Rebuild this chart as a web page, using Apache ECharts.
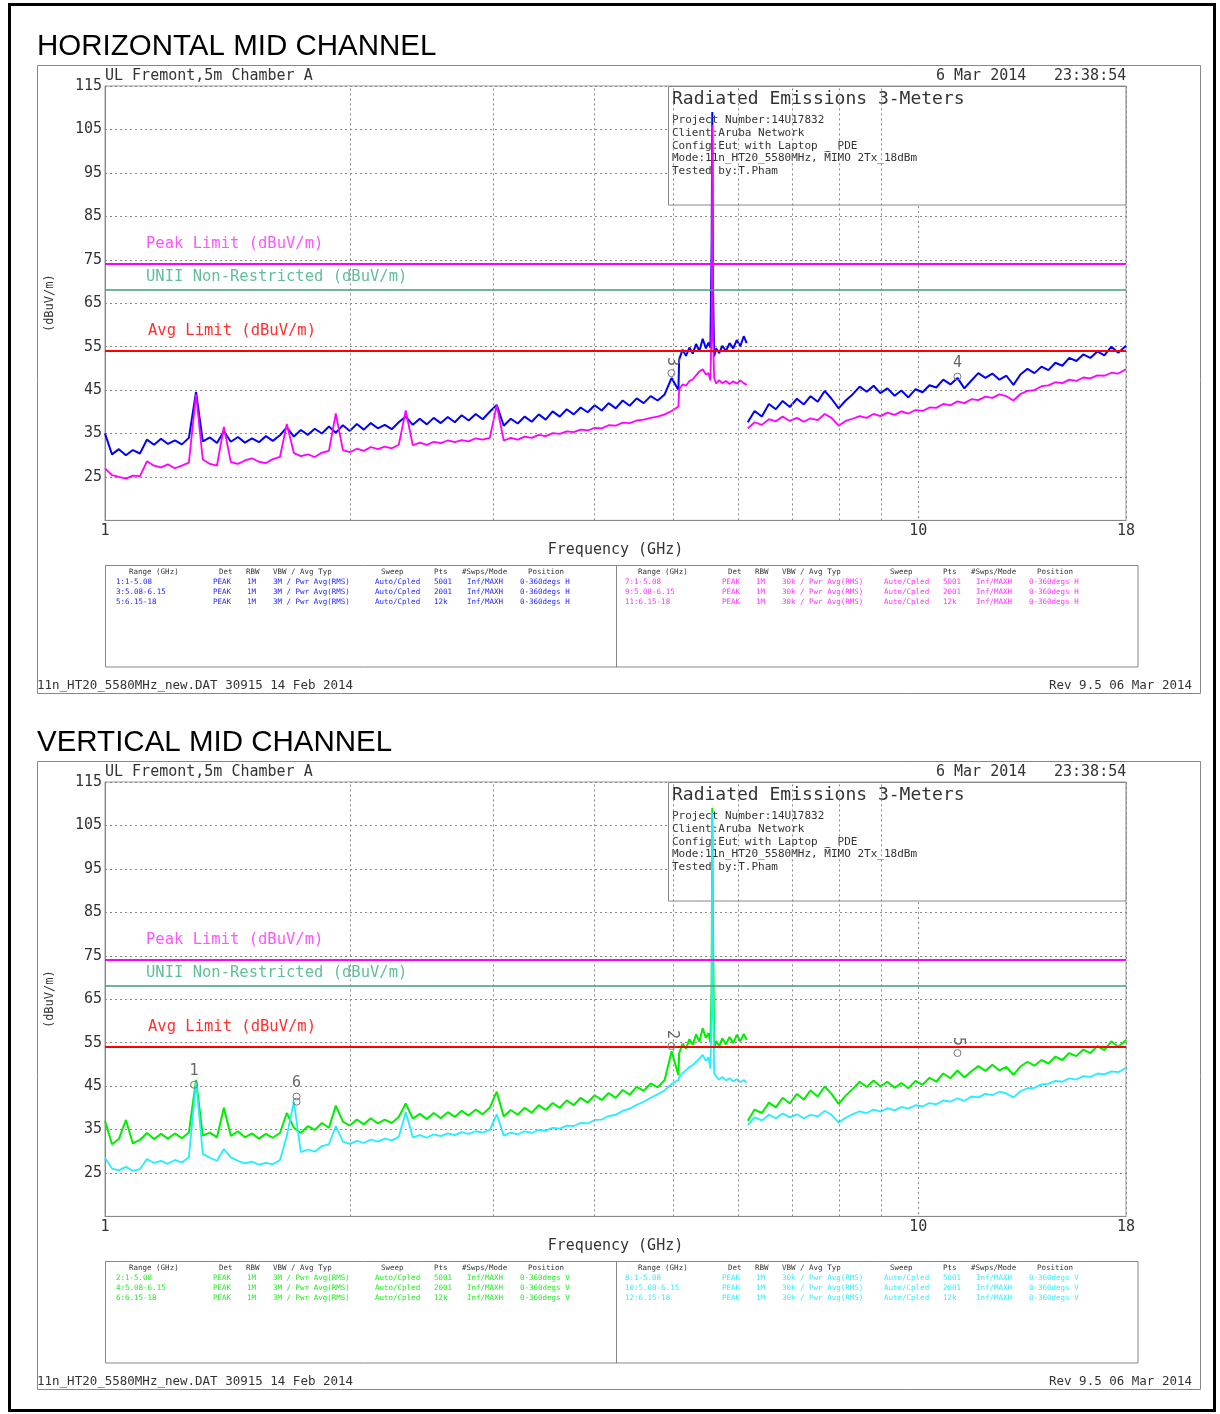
<!DOCTYPE html>
<html><head><meta charset="utf-8">
<script src="https://cdn.jsdelivr.net/npm/echarts/dist/echarts.min.js"></script>
<style>html,body{margin:0;padding:0;background:#fff}#c{width:1220px;height:1414px}</style>
</head><body><div id="c"></div>
<script>
// ---------- DATA ----------
const freqA = [1.000,1.020,1.040,1.061,1.082,1.104,1.126,1.149,1.172,1.195,1.219,1.243,1.268,1.294,1.319,1.346,1.373,1.400,1.428,1.457,1.486,1.516,1.546,1.577,1.608,1.641,1.673,1.707,1.741,1.776,1.811,1.848,1.885,1.922,1.961,2.000,2.040,2.081,2.122,2.165,2.208,2.252,2.297,2.343,2.390,2.438,2.487,2.536,2.587,2.639,2.692,2.745,2.800,2.856,2.913,2.972,3.031,3.092,3.154,3.217,3.281,3.347,3.414,3.482,3.551,3.623,3.695,3.769,3.844,3.921,4.000,4.080,4.161,4.245,4.330,4.416,4.505,4.595,4.687,4.780,4.876,4.973,5.070];
const freqB = [5.08,5.13,5.18,5.23,5.28,5.33,5.38,5.43,5.48,5.52,5.55,5.57,5.58,5.59,5.61,5.64,5.69,5.74,5.80,5.86,5.92,5.98,6.04,6.10,6.15];
const freqC = [6.17,6.29,6.42,6.55,6.68,6.81,6.95,7.09,7.23,7.37,7.52,7.67,7.82,7.98,8.14,8.30,8.47,8.64,8.81,8.98,9.16,9.35,9.53,9.72,9.92,10.12,10.32,10.52,10.73,10.95,11.17,11.39,11.62,11.85,12.09,12.33,12.58,12.83,13.09,13.35,13.62,13.89,14.17,14.45,14.74,15.03,15.33,15.64,15.95,16.27,16.60,16.93,17.27,17.61,18.00];

// Horizontal - peak (blue)
const hPeakA = [35.0,30.2,31.4,30.0,31.2,30.4,33.6,32.4,33.8,32.6,33.4,32.5,34.0,44.6,33.2,34.1,32.8,35.5,33.1,34.2,32.9,33.9,33.0,34.4,33.3,34.6,36.4,34.3,35.8,34.7,36.1,35.0,36.6,35.2,36.9,35.6,37.2,35.9,37.4,36.2,37.0,36.0,37.6,38.9,37.0,38.4,37.1,38.6,37.4,38.8,37.6,39.2,38.0,39.5,38.3,40.0,41.6,36.8,38.4,37.3,38.9,37.7,39.4,38.2,40.1,38.9,40.6,39.4,41.0,39.9,41.5,40.3,42.0,40.8,42.6,41.4,43.1,42.0,43.6,42.6,44.0,47.8,45.0];
const hPeakB = [52.0,54.3,52.9,54.8,53.4,55.6,54.0,56.8,54.6,55.9,54.8,79.0,109.0,70.0,52.8,54.6,53.5,55.2,54.0,55.8,54.6,56.5,55.1,57.4,55.8];
const hPeakC = [37.6,40.2,38.9,41.8,40.6,42.5,41.1,43.0,41.7,43.6,42.3,44.8,43.0,40.8,42.6,44.0,45.8,44.6,46.0,44.3,45.4,43.7,44.9,43.3,45.2,44.5,46.1,45.6,47.4,46.3,47.8,45.4,47.2,48.9,47.8,48.8,47.4,48.3,46.2,48.6,49.9,48.9,50.4,49.6,51.3,50.6,52.4,51.7,53.2,52.4,53.9,53.0,55.0,53.6,55.2];
// Horizontal - average (magenta)
const hAvgA = [27.0,25.4,25.0,24.6,25.3,25.2,28.6,27.6,27.2,27.9,27.0,27.6,28.3,44.0,29.0,28.0,27.6,36.5,28.4,28.0,28.8,29.3,28.5,28.2,29.1,29.6,37.2,30.5,29.8,30.2,29.6,30.6,31.0,39.6,31.2,30.7,31.5,31.0,31.9,31.4,32.0,31.6,32.4,40.3,32.3,32.9,32.4,33.1,32.8,33.4,33.0,33.5,33.2,33.9,33.6,34.0,41.5,33.4,34.0,33.6,34.3,34.0,34.7,34.4,35.1,34.9,35.5,35.3,35.9,35.7,36.3,36.2,36.9,36.8,37.5,37.4,38.0,38.2,38.6,38.9,39.4,40.2,41.2];
const hAvgB = [45.2,46.3,46.0,47.1,47.5,48.4,49.3,49.8,48.6,48.9,47.2,60.0,106.0,58.0,47.8,46.5,47.3,46.6,47.1,46.4,47.0,46.5,47.2,46.6,46.2];
const hAvgC = [36.2,37.6,37.0,38.3,37.8,38.9,37.9,38.6,37.7,38.5,38.1,39.5,38.6,36.8,37.9,38.4,39.0,38.6,39.5,39.0,39.8,39.3,40.1,39.6,40.4,40.2,41.0,40.9,41.8,41.5,42.4,42.0,42.9,42.7,43.5,43.2,44.0,43.6,42.6,44.1,44.8,45.0,45.9,46.1,46.8,46.6,47.4,47.1,47.9,47.7,48.4,48.3,49.0,48.8,49.8];

// Vertical - peak (green)
const vPeakA = [37.0,31.6,32.8,37.2,31.8,32.6,34.2,32.8,34.0,32.9,34.1,33.0,34.3,46.4,33.6,34.3,33.2,40.0,33.5,34.6,33.2,34.1,32.9,34.0,33.1,34.2,38.8,35.4,34.2,35.8,34.9,36.5,35.4,40.5,36.8,35.9,37.3,36.2,37.6,36.4,37.3,36.5,37.9,41.0,37.5,38.6,37.4,38.8,37.6,39.0,37.9,39.3,38.2,39.6,38.5,40.0,43.7,38.0,39.5,38.4,40.0,38.9,40.6,39.5,41.1,40.0,41.7,40.6,42.3,41.2,42.9,41.8,43.4,42.3,44.1,43.0,44.8,43.9,45.6,44.7,46.4,53.0,47.5];
const vPeakB = [52.5,54.8,53.6,55.8,54.5,56.9,55.2,58.3,56.1,57.2,55.0,68.0,109.0,84.0,53.6,55.4,54.2,56.0,54.6,56.3,54.9,56.8,55.3,57.0,55.6];
const vPeakC = [37.0,39.6,38.8,41.2,40.1,42.3,41.0,43.2,41.9,44.0,42.6,44.9,43.2,40.9,42.8,44.3,46.0,44.8,46.3,44.9,46.0,44.6,45.7,44.5,46.2,45.3,46.9,46.0,47.9,46.8,48.6,47.0,48.4,49.6,48.5,49.9,48.6,49.4,47.6,49.5,50.6,49.7,51.0,50.2,51.8,51.0,52.6,51.9,53.4,52.6,54.2,53.3,55.3,54.0,55.6];
// Vertical - average (cyan)
const vAvgA = [28.5,26.0,25.6,26.4,25.5,25.9,28.2,27.3,27.8,27.1,28.0,27.4,28.6,46.0,29.4,28.5,27.8,30.5,28.6,27.8,27.2,27.6,26.9,27.3,27.0,28.0,33.5,41.4,29.8,30.4,29.9,31.2,31.6,35.8,32.2,31.7,32.4,31.9,32.7,32.2,32.9,32.5,33.3,39.0,33.2,33.7,33.1,33.9,33.5,34.1,33.7,34.4,34.0,34.6,34.3,34.9,38.5,33.6,34.3,33.9,34.6,34.2,34.9,34.7,35.4,35.2,35.9,35.8,36.5,36.4,37.2,37.3,38.1,38.4,39.3,39.8,40.7,41.4,42.3,43.1,44.0,45.5,46.4];
const vAvgB = [47.0,48.0,48.6,49.4,49.8,50.6,51.3,52.2,50.8,51.6,49.0,62.0,108.0,68.0,48.0,47.2,46.5,47.1,46.3,46.8,46.1,46.6,45.9,46.4,45.8];
const vAvgC = [36.0,37.8,37.1,38.4,37.6,38.7,37.8,38.5,37.6,38.4,38.0,39.3,38.4,36.6,37.7,38.5,39.2,38.8,39.6,39.1,39.9,39.4,40.2,39.8,40.6,40.3,41.1,40.8,41.7,41.4,42.2,41.6,42.6,42.4,43.2,42.9,43.7,43.3,42.4,43.8,44.5,44.6,45.4,45.5,46.2,46.0,46.8,46.5,47.3,47.1,47.9,47.7,48.4,48.2,49.2];

const xGridFreqs = [2,3,4,5,6,7,8,9];
const yMin = 15, yMax = 115, yStep = 10;
const peakLimit = 74, uniiLimit = 68.2, avgLimit = 54;
const hMarkers = [{label:'3', f:4.97, v:48.9, rot:-90},{label:'4', f:11.17, v:48.1, rot:0}];
const vMarkers = [{label:'1', f:1.287, v:45.3, rot:0},{label:'6', f:1.72, v:42.6, rot:0},{label:'', f:1.72, v:41.4, rot:0},{label:'2', f:4.97, v:54.2, rot:-90},{label:'5', f:11.17, v:52.6, rot:-90}];

const tableHead = ['Range (GHz)','Det','RBW','VBW / Avg Typ','Sweep','Pts','#Swps/Mode','Position'];
const hLeftRows = [['1:1-5.08','PEAK','1M','3M / Pwr Avg(RMS)','Auto/Cpled','5001','Inf/MAXH','0-360degs H'],['3:5.08-6.15','PEAK','1M','3M / Pwr Avg(RMS)','Auto/Cpled','2001','Inf/MAXH','0-360degs H'],['5:6.15-18','PEAK','1M','3M / Pwr Avg(RMS)','Auto/Cpled','12k','Inf/MAXH','0-360degs H']];
const hRightRows = [['7:1-5.08','PEAK','1M','30k / Pwr Avg(RMS)','Auto/Cpled','5001','Inf/MAXH','0-360degs H'],['9:5.08-6.15','PEAK','1M','30k / Pwr Avg(RMS)','Auto/Cpled','2001','Inf/MAXH','0-360degs H'],['11:6.15-18','PEAK','1M','30k / Pwr Avg(RMS)','Auto/Cpled','12k','Inf/MAXH','0-360degs H']];
const vLeftRows = [['2:1-5.08','PEAK','1M','3M / Pwr Avg(RMS)','Auto/Cpled','5001','Inf/MAXH','0-360degs V'],['4:5.08-6.15','PEAK','1M','3M / Pwr Avg(RMS)','Auto/Cpled','2001','Inf/MAXH','0-360degs V'],['6:6.15-18','PEAK','1M','3M / Pwr Avg(RMS)','Auto/Cpled','12k','Inf/MAXH','0-360degs V']];
const vRightRows = [['8:1-5.08','PEAK','1M','30k / Pwr Avg(RMS)','Auto/Cpled','5001','Inf/MAXH','0-360degs V'],['10:5.08-6.15','PEAK','1M','30k / Pwr Avg(RMS)','Auto/Cpled','2001','Inf/MAXH','0-360degs V'],['12:6.15-18','PEAK','1M','30k / Pwr Avg(RMS)','Auto/Cpled','12k','Inf/MAXH','0-360degs V']];
const infoLines = ['Project Number:14U17832','Client:Aruba Network','Config:Eut with Laptop _ PDE','Mode:11n_HT20_5580MHz, M\u0304IMO 2Tx_18dBm','Tested by:T.Pham'];

// ---------- CHART ----------
const MONO = 'DejaVu Sans Mono';
const TXT = '#333';
const panels = [
  {dy:0, title:'HORIZONTAL MID CHANNEL', peak:[hPeakA,hPeakB,hPeakC], avg:[hAvgA,hAvgB,hAvgC], pc:'#0000ff', ac:'#ff00ff', markers:hMarkers, left:hLeftRows, right:hRightRows, lc:'#2626ff', rc:'#ff33ff'},
  {dy:696, title:'VERTICAL MID CHANNEL', peak:[vPeakA,vPeakB,vPeakC], avg:[vAvgA,vAvgB,vAvgC], pc:'#00ee00', ac:'#22eeff', markers:vMarkers, left:vLeftRows, right:vRightRows, lc:'#22ee22', rc:'#33eeff'}
];
const zip = (f,v)=>f.map((x,i)=>[x,v[i]]);

const grids=[], xAxes=[], yAxes=[], series=[], graphics=[];
function txt(x,y,s,o){ o=o||{}; graphics.push({type:'text', x, y, z:o.z||3, rotation:o.rot||0, style:{text:s, fill:o.color||TXT, font:(o.size||15)+'px "'+(o.family||MONO)+'"', textAlign:o.align||'left', textVerticalAlign:'middle'}}); }
function rect(x,y,w,h,o){ o=o||{}; graphics.push({type:'rect', z:o.z||1, shape:{x,y,width:w,height:h}, style:{fill:o.fill||'none', stroke:o.stroke||'#888', lineWidth:o.lw||1}}); }
function line(x1,y1,x2,y2,o){ o=o||{}; graphics.push({type:'line', z:o.z||1, shape:{x1,y1,x2,y2}, style:{stroke:o.stroke||'#888', lineWidth:o.lw||1}}); }

// page border
rect(9.5,4.5,1205,1406,{stroke:'#000', lw:3, z:1});

panels.forEach((p,gi)=>{
  const dy=p.dy;
  grids.push({left:105, top:86+dy, width:1021, height:434.4, show:true, borderColor:'#999', borderWidth:1, containLabel:false, outerBoundsMode:'none'});
  xAxes.push({type:'log', logBase:10, gridIndex:gi, min:1, max:18,
    axisLine:{show:true, lineStyle:{color:'#888'}}, axisTick:{show:false},
    axisLabel:{show:true, color:TXT, fontFamily:MONO, fontSize:15, margin:3, formatter:v=>String(Math.round(v))},
    splitLine:{show:true, lineStyle:{color:'#888', type:[2,3], width:1}},
    name:'Frequency (GHz)', nameLocation:'middle', nameGap:22, nameTextStyle:{color:TXT, fontFamily:MONO, fontSize:15}});
  yAxes.push({type:'value', gridIndex:gi, min:yMin, max:yMax, interval:yStep,
    axisLine:{show:true, lineStyle:{color:'#888'}}, axisTick:{show:false},
    axisLabel:{color:TXT, fontFamily:MONO, fontSize:15, margin:3, formatter:v=>v===yMin?'':String(v)},
    splitLine:{show:true, lineStyle:{color:'#888', type:[2,3], width:1}},
    name:'(dBuV/m)', nameLocation:'middle', nameGap:49, nameRotate:90, nameTextStyle:{color:TXT, fontFamily:MONO, fontSize:12}});
  // vertical minor grid lines
  series.push({type:'line', xAxisIndex:gi, yAxisIndex:gi, data:[], z:0, silent:true, animation:false,
    markLine:{silent:true, symbol:['none','none'], label:{show:false}, animation:false,
      lineStyle:{color:'#888', type:[2,3], width:1}, data:xGridFreqs.map(f=>({xAxis:f}))}});
  const mk = {symbol:'circle', symbolSize:7, animation:false, silent:true,
    itemStyle:{color:'rgba(0,0,0,0)', borderColor:'#777', borderWidth:1},
    label:{show:true, position:'top', distance:2, color:'#666', fontFamily:MONO, fontSize:15, formatter:q=>q.name},
    data:p.markers.map(m=>({name:m.label, coord:[m.f,m.v],
      label: m.rot ? {rotate:m.rot, align:'right', verticalAlign:'middle', distance:3} : {}}))};
  const base = {type:'line', xAxisIndex:gi, yAxisIndex:gi, showSymbol:false, symbol:'none', silent:true, animation:false, clip:true};
  series.push(Object.assign({}, base, {z:2, data:zip(freqA,p.peak[0]).concat(zip(freqB,p.peak[1])), lineStyle:{color:p.pc, width:2}}));
  series.push(Object.assign({}, base, {z:2, data:zip(freqC,p.peak[2]), lineStyle:{color:p.pc, width:2}}));
  series.push(Object.assign({}, base, {z:3, data:zip(freqA,p.avg[0]).concat(zip(freqB,p.avg[1])), lineStyle:{color:p.ac, width:1.8}}));
  series.push(Object.assign({}, base, {z:3, data:zip(freqC,p.avg[2]), lineStyle:{color:p.ac, width:1.8}, markPoint:mk}));
  // limit lines
  series.push({type:'line', xAxisIndex:gi, yAxisIndex:gi, data:[], z:4, silent:true, animation:false,
    markLine:{silent:true, symbol:['none','none'], label:{show:false}, animation:false, data:[
      {yAxis:peakLimit, lineStyle:{color:'#ff00ff', width:2, type:'solid'}},
      {yAxis:uniiLimit, lineStyle:{color:'#3f9c7e', width:1.5, type:'solid'}},
      {yAxis:avgLimit, lineStyle:{color:'#ff0000', width:2, type:'solid'}}]}});

  // texts / boxes
  txt(37, 47+dy, p.title, {family:'Liberation Sans', size:29.5, color:'#000'});
  rect(37.5, 65.5+dy, 1163, 628, {stroke:'#888', z:0});
  txt(105, 76+dy, 'UL Fremont,5m Chamber A');
  txt(936, 76+dy, '6 Mar 2014');
  txt(1054, 76+dy, '23:38:54');
  rect(668.5, 86.5+dy, 457.5, 118.5, {fill:'#fff', stroke:'#888', z:1});
  txt(672, 99+dy, 'Radiated Emissions 3-Meters', {size:18});
  infoLines.forEach((s,i)=>txt(672, 120.5+dy+i*12.7, s, {size:11}));
  txt(146, 244+dy, 'Peak Limit (dBuV/m)', {color:'#ff55ff', size:15.5});
  txt(146, 277+dy, 'UNII Non-Restricted (dBuV/m)', {color:'#5fbf9a', size:15.5});
  txt(148, 331+dy, 'Avg Limit (dBuV/m)', {color:'#ff3030', size:15.5});
  // settings table
  rect(105.5, 565.5+dy, 1032.5, 101.5, {stroke:'#888', z:1});
  line(616.5, 565.5+dy, 616.5, 667+dy, {stroke:'#888'});
  const headX=[129,219,246,273,381,434,462,528], rowX=[116,213,247,273,375,434,467,520];
  [0,509].forEach((off,side)=>{
    tableHead.forEach((s,i)=>txt(headX[i]+off, 572.5+dy, s, {size:7.5, color:'#333'}));
    const rows = side===0?p.left:p.right, col = side===0?p.lc:p.rc;
    rows.forEach((r,ri)=>r.forEach((s,i)=>txt(rowX[i]+off, 582.5+dy+ri*10, s, {size:7.5, color:col})));
  });
  txt(37, 686+dy, '11n_HT20_5580MHz_new.DAT 30915 14 Feb 2014', {size:12.5});
  txt(1192, 686+dy, 'Rev 9.5 06 Mar 2014', {size:12.5, align:'right'});
});

const chart = echarts.init(document.getElementById('c'), null, {renderer:'canvas', width:1220, height:1414});
chart.setOption({animation:false, backgroundColor:'#fff', grid:grids, xAxis:xAxes, yAxis:yAxes, series, graphic:{elements:graphics}});
</script></body></html>
